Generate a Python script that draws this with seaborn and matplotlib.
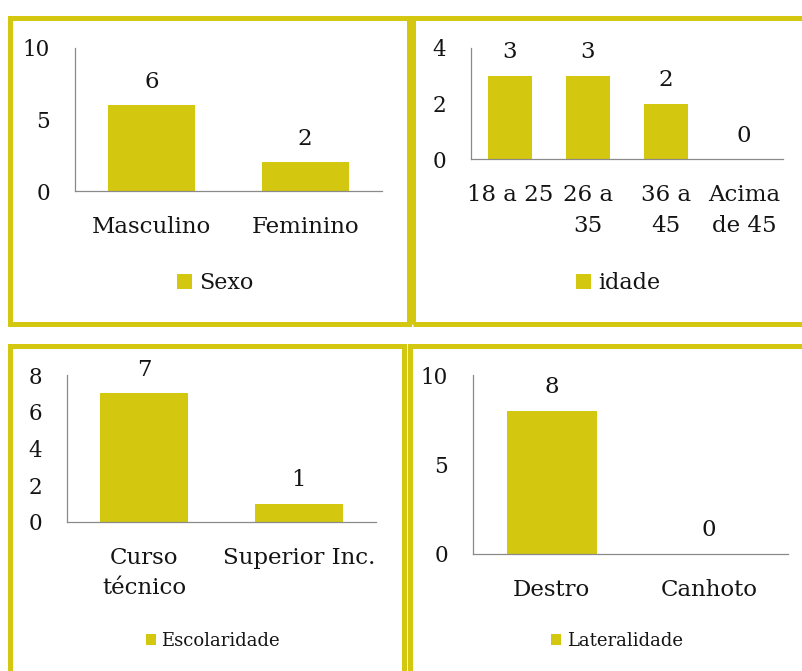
import matplotlib
matplotlib.use("Agg")
import matplotlib.pyplot as plt
from matplotlib.patches import Rectangle
import seaborn as sns

# --- data -------------------------------------------------------------
sexo_cats = ["Masculino", "Feminino"]
sexo_vals = [6, 2]

idade_cats = ["18 a 25", "26 a\n35", "36 a\n45", "Acima\nde 45"]
idade_vals = [3, 3, 2, 0]

escol_cats = ["Curso\ntécnico", "Superior Inc."]
escol_vals = [7, 1]

lat_cats = ["Destro", "Canhoto"]
lat_vals = [8, 0]

# --- style ------------------------------------------------------------
sns.set_theme(style="white")
plt.rcParams["font.family"] = ["DejaVu Serif"]
OLIVE = "#D3C70F"
TEXT = "#141414"
AXIS = "#8A8A8A"

W, H = 803, 671
fig = plt.figure(figsize=(W / 100, H / 100), dpi=100)
fig.patch.set_facecolor("white")


def px_axes(left, right, top, bottom):
    return fig.add_axes([left / W, 1 - bottom / H, (right - left) / W, (bottom - top) / H])


def panel(box, cats, vals, ymax, yticks, series, legend_xy, legend_size, handle):
    ax = px_axes(*box)
    sns.barplot(x=cats, y=vals, ax=ax, color=OLIVE, saturation=1, width=0.57,
                edgecolor="none", linewidth=0)
    ax.set_ylim(0, ymax)
    ax.set_yticks(yticks)
    ax.set_yticklabels([str(t) for t in yticks])
    ax.set_xlabel("")
    ax.set_ylabel("")
    for s in ("top", "right"):
        ax.spines[s].set_visible(False)
    for s in ("left", "bottom"):
        ax.spines[s].set_color(AXIS)
        ax.spines[s].set_linewidth(0.9)
    ax.tick_params(axis="x", length=0, pad=18, labelsize=16.5, labelcolor=TEXT)
    ax.tick_params(axis="y", length=0, pad=18, labelsize=15.5, labelcolor=TEXT)
    for lab in ax.get_xticklabels():
        lab.set_linespacing(1.5)
    ax.bar_label(ax.containers[0], labels=[str(v) for v in vals], padding=9,
                 fontsize=16.5, color=TEXT)
    ax.set_facecolor("none")
    fig.legend(handles=[ax.containers[0].patches[0]], labels=[series],
               loc="center", bbox_to_anchor=(legend_xy[0] / W, 1 - legend_xy[1] / H),
               bbox_transform=fig.transFigure, frameon=False, fontsize=legend_size,
               handlelength=handle, handleheight=handle, handletextpad=0.3,
               labelcolor=TEXT, borderpad=0, borderaxespad=0)
    return ax


panel((75, 382, 48, 191), sexo_cats, sexo_vals, 10, [0, 5, 10], "Sexo", (215, 283), 16, 0.68)
panel((471, 783, 48, 159), idade_cats, idade_vals, 4, [0, 2, 4], "idade", (618, 283), 16, 0.68)
panel((67, 376, 375, 522), escol_cats, escol_vals, 8, [0, 2, 4, 6, 8], "Escolaridade", (213, 641), 13, 0.55)
panel((473, 788, 375, 554), lat_cats, lat_vals, 10, [0, 5, 10], "Lateralidade", (617, 641), 13, 0.55)

# --- panel frames -----------------------------------------------------
frames = [
    (10.5, 17.5, 408.5, 323.5),
    (413.5, 17.5, 812.0, 323.5),
    (10.5, 345.5, 404.5, 682.0),
    (409.5, 345.5, 812.0, 682.0),
]
for x0, y0, x1, y1 in frames:
    fig.patches.append(Rectangle((x0 / W, 1 - y1 / H), (x1 - x0) / W, (y1 - y0) / H,
                                 transform=fig.transFigure, fill=False,
                                 edgecolor=OLIVE, linewidth=3.6, joinstyle="miter",
                                 zorder=10))

fig.savefig("out.png", dpi=100, facecolor="white")
